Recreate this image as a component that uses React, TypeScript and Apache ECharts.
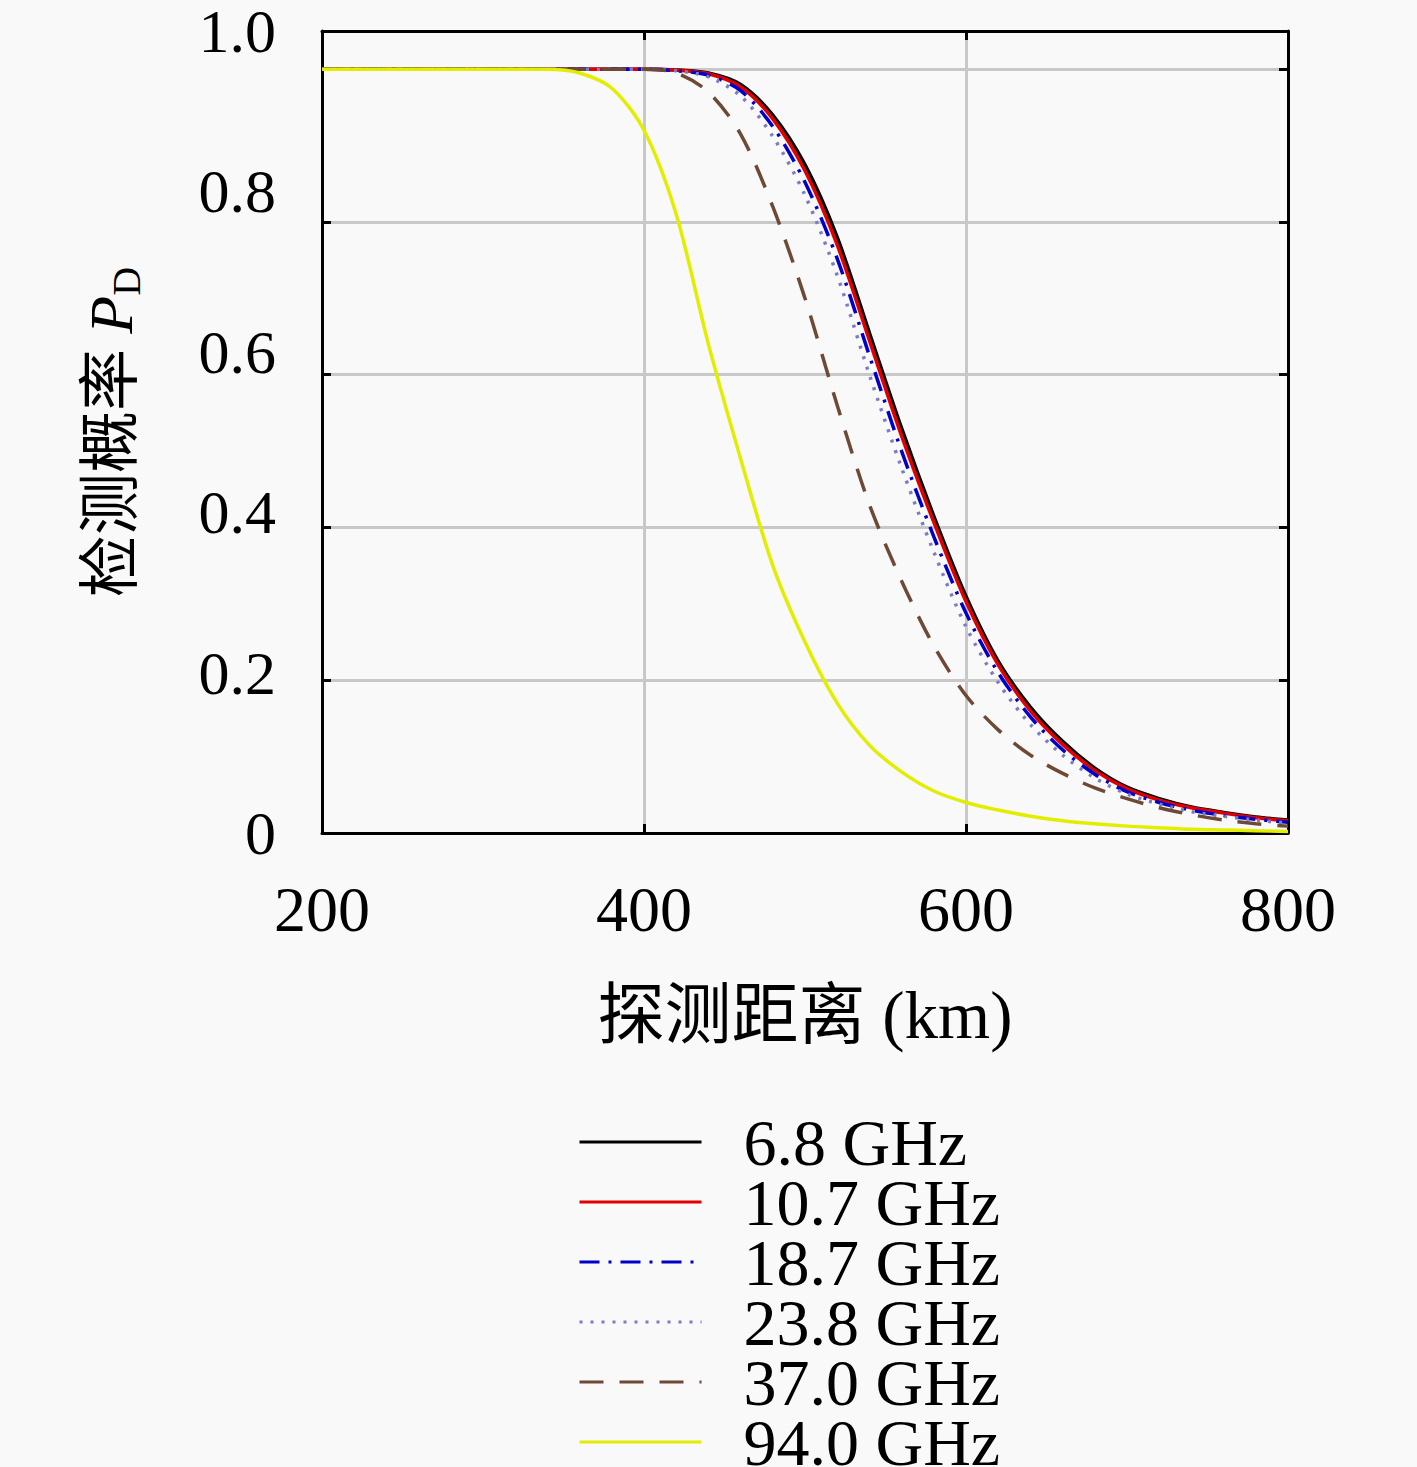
import { useEffect, useRef } from 'react';
import * as echarts from 'echarts';

// detection range (km)
const distances = [200, 220, 240, 260, 280, 300, 320, 340, 360, 380, 400, 420, 440, 460, 480, 500, 520, 540, 560, 580, 600, 620, 640, 660, 680, 700, 720, 740, 760, 780, 800];

const pd68 = [1, 1, 1, 1, 1, 1, 1, 1, 1, 1, 1, 0.999, 0.995, 0.98, 0.94, 0.875, 0.78, 0.655, 0.53, 0.415, 0.31, 0.225, 0.165, 0.12, 0.085, 0.06, 0.045, 0.034, 0.027, 0.021, 0.017];
const pd107 = [1, 1, 1, 1, 1, 1, 1, 1, 1, 1, 1, 0.999, 0.994, 0.977, 0.935, 0.867, 0.77, 0.645, 0.52, 0.407, 0.303, 0.22, 0.16, 0.116, 0.082, 0.058, 0.043, 0.033, 0.026, 0.02, 0.016];
const pd187 = [1, 1, 1, 1, 1, 1, 1, 1, 1, 1, 1, 0.998, 0.992, 0.972, 0.925, 0.852, 0.752, 0.625, 0.5, 0.388, 0.288, 0.21, 0.152, 0.109, 0.077, 0.054, 0.04, 0.03, 0.023, 0.018, 0.014];
const pd238 = [1, 1, 1, 1, 1, 1, 1, 1, 1, 1, 1, 0.998, 0.99, 0.965, 0.912, 0.835, 0.73, 0.6, 0.478, 0.368, 0.27, 0.197, 0.142, 0.102, 0.072, 0.051, 0.038, 0.028, 0.022, 0.017, 0.013];
const pd370 = [1, 1, 1, 1, 1, 1, 1, 1, 1, 1, 1, 0.995, 0.97, 0.915, 0.82, 0.7, 0.56, 0.43, 0.33, 0.245, 0.18, 0.135, 0.102, 0.078, 0.059, 0.045, 0.033, 0.024, 0.017, 0.012, 0.009];
const pd940 = [1, 1, 1, 1, 1, 1, 1, 1, 0.995, 0.975, 0.92, 0.81, 0.64, 0.49, 0.35, 0.25, 0.17, 0.115, 0.08, 0.055, 0.04, 0.03, 0.022, 0.016, 0.012, 0.009, 0.007, 0.005, 0.004, 0.003, 0.002];

const seriesNames = ['6.8 GHz', '10.7 GHz', '18.7 GHz', '23.8 GHz', '37.0 GHz', '94.0 GHz'];
const seriesValues = [pd68, pd107, pd187, pd238, pd370, pd940];
const seriesColors = ['#000000', '#e00000', '#0000c8', '#7c7cc4', '#6e4a36', '#e2ee00'];
const seriesDash: any[] = ['solid', 'solid', [20, 9, 3, 9], [3, 8], [24, 16], 'solid'];

const yTickLabels = ['0', '0.2', '0.4', '0.6', '0.8', '1.0'];

const FONT = "'Liberation Serif', 'Noto Sans CJK SC', serif";

const App = () => {
    const chartRef = useRef<HTMLDivElement>(null);

    useEffect(() => {
        document.body.style.margin = '0';
        if (!chartRef.current) return;
        const chart = echarts.init(chartRef.current, null, { renderer: 'svg' });

        const tickStyle = { show: true, inside: true, length: 9, lineStyle: { color: '#000', width: 3 } };
        const frame = { show: true, onZero: false, lineStyle: { color: '#000', width: 3 } };
        const grid = { show: true, showMinLine: false, showMaxLine: false, lineStyle: { color: '#c8c8c8', width: 3 } };

        // one legend per entry so that the rows sit 60px apart
        const legends = seriesNames.map((name, i) => ({
            orient: 'horizontal',
            left: 578,
            top: 1109 + i * 60,
            padding: 0,
            itemWidth: 122,
            itemHeight: 20,
            itemStyle: { opacity: 0 },
            lineStyle: { width: 3 },
            textStyle: {
                fontFamily: FONT,
                fontSize: 66,
                lineHeight: 50,
                color: '#000',
                padding: [0, 0, 0, 37],
            },
            data: [name],
        }));

        const option = {
            animation: false,
            backgroundColor: '#f9f9f9',
            grid: {
                left: 322,
                right: 129,
                top: 30,
                bottom: 634,
            },
            legend: legends,
            xAxis: [
                {
                    type: 'value',
                    min: 200,
                    max: 800,
                    interval: 200,
                    name: '探测距离 (km)',
                    nameLocation: 'middle',
                    nameGap: 148,
                    nameTextStyle: { fontFamily: FONT, fontSize: 67, color: '#000' },
                    axisLine: frame,
                    axisTick: tickStyle,
                    axisLabel: { fontFamily: FONT, fontSize: 64, color: '#000', margin: 44 },
                    splitLine: grid,
                },
                {
                    type: 'value',
                    position: 'top',
                    min: 200,
                    max: 800,
                    interval: 200,
                    axisLine: frame,
                    axisTick: tickStyle,
                    axisLabel: { show: false },
                    splitLine: { show: false },
                },
            ],
            yAxis: [
                {
                    type: 'value',
                    min: 0,
                    max: 1.05,
                    interval: 0.2,
                    axisLine: frame,
                    axisTick: tickStyle,
                    axisLabel: { show: false },
                    splitLine: grid,
                },
                {
                    type: 'value',
                    position: 'left',
                    min: 0,
                    max: 1,
                    interval: 0.2,
                    name: '检测概率 {p|P}{d|D}',
                    nameLocation: 'middle',
                    nameGap: 176,
                    nameTextStyle: {
                        fontFamily: FONT,
                        fontSize: 62,
                        color: '#000',
                        rich: {
                            p: { fontFamily: FONT, fontSize: 62, fontStyle: 'italic', color: '#000' },
                            d: { fontFamily: FONT, fontSize: 40, color: '#000', padding: [30, 0, 0, 0] },
                        },
                    },
                    axisLine: { show: false },
                    axisTick: { show: false },
                    splitLine: { show: false },
                    axisLabel: {
                        fontFamily: FONT,
                        fontSize: 62,
                        lineHeight: 46,
                        color: '#000',
                        margin: 46,
                        formatter: (v: number) => yTickLabels[Math.round(v * 5)],
                    },
                },
                {
                    type: 'value',
                    position: 'right',
                    min: 0,
                    max: 1.05,
                    interval: 0.2,
                    axisLine: frame,
                    axisTick: tickStyle,
                    axisLabel: { show: false },
                    splitLine: { show: false },
                },
            ],
            series: seriesNames.map((name, i) => ({
                name,
                type: 'line',
                xAxisIndex: 0,
                yAxisIndex: 0,
                showSymbol: false,
                symbol: 'none',
                smooth: 0.3,
                color: seriesColors[i],
                lineStyle: { color: seriesColors[i], width: 3.5, type: seriesDash[i] },
                data: distances.map((d, j) => [d, seriesValues[i][j]]),
            })),
        };

        chart.setOption(option);
        return () => {
            chart.dispose();
        };
    }, []);

    return <div ref={chartRef} style={{ width: '1417px', height: '1467px' }} />;
};

export default App;
